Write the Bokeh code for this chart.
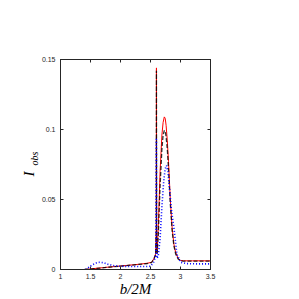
import numpy as np
from bokeh.plotting import figure
from bokeh.models import Range1d, LinearAxis, Title, FixedTicker
from bokeh.embed import file_html
from bokeh.resources import INLINE

# --- data ---
x_red = [1.40, 1.5, 1.7, 1.9, 2.1, 2.3, 2.45, 2.52, 2.56, 2.585, 2.597, 2.599, 2.602, 2.61, 2.63, 2.66, 2.69, 2.71, 2.73, 2.745, 2.76, 2.78, 2.80, 2.83, 2.86, 2.89, 2.92, 2.96, 3.0, 3.05, 3.2, 3.5]
y_red = [0.0, 0.0004, 0.0013, 0.0021, 0.0029, 0.0037, 0.0045, 0.0052, 0.008, 0.011, 0.03, 0.144, 0.02, 0.012, 0.03, 0.07, 0.096, 0.105, 0.109, 0.108, 0.103, 0.092, 0.077, 0.050, 0.030, 0.018, 0.012, 0.008, 0.0065, 0.0062, 0.0062, 0.0062]

x_blk = [1.40, 1.5, 1.7, 1.9, 2.1, 2.3, 2.45, 2.52, 2.56, 2.585, 2.597, 2.599, 2.602, 2.61, 2.63, 2.66, 2.69, 2.71, 2.73, 2.745, 2.76, 2.78, 2.80, 2.83, 2.86, 2.89, 2.92, 2.96, 3.0, 3.05, 3.2, 3.5]
y_blk = [0.0, 0.0003, 0.0012, 0.0020, 0.0028, 0.0036, 0.0043, 0.0050, 0.0078, 0.0105, 0.028, 0.142, 0.018, 0.011, 0.025, 0.060, 0.086, 0.096, 0.0993, 0.099, 0.095, 0.086, 0.072, 0.047, 0.028, 0.017, 0.011, 0.0075, 0.0062, 0.0060, 0.0060, 0.0060]

x_blu = [1.42, 1.5, 1.58, 1.65, 1.72, 1.8, 1.9, 2.0, 2.2, 2.4, 2.5, 2.55, 2.58, 2.592, 2.598, 2.601, 2.61, 2.63, 2.66, 2.69, 2.72, 2.745, 2.767, 2.79, 2.82, 2.85, 2.89, 2.94, 3.0, 3.1, 3.3, 3.5]
y_blu = [0.0, 0.0025, 0.0045, 0.0052, 0.0048, 0.0036, 0.0027, 0.0023, 0.0021, 0.0021, 0.0023, 0.005, 0.0088, 0.012, 0.094, 0.014, 0.008, 0.010, 0.022, 0.045, 0.063, 0.072, 0.0743, 0.070, 0.056, 0.042, 0.030, 0.011, 0.0052, 0.0042, 0.0040, 0.0040]

x_ticks = [1, 1.5, 2, 2.5, 3, 3.5]
y_ticks = [0, 0.05, 0.1, 0.15]
x_tick_labels = ["1", "1.5", "2", "2.5", "3", "3.5"]
y_tick_labels = ["0", "0.05", "0.1", "0.15"]

AX = "#262626"
TICK_FONT = "Liberation Sans"
SERIF = "Liberation Serif"

p = figure(width=299, height=299, output_backend="svg", toolbar_location=None,
           x_range=Range1d(1, 3.5), y_range=Range1d(0, 0.15),
           min_border_left=60, min_border_right=89, min_border_top=59, min_border_bottom=30)
p.background_fill_color = "white"
p.border_fill_color = "white"
p.outline_line_color = AX
p.outline_line_width = 1
p.grid.visible = False

def style(ax, labels=True):
    ax.axis_line_color = AX
    ax.major_tick_line_color = AX
    ax.major_tick_in = 3
    ax.major_tick_out = 0
    ax.minor_tick_line_color = None
    ax.major_label_text_font = TICK_FONT
    ax.major_label_text_font_size = "7px"
    ax.major_label_text_color = AX
    ax.major_label_standoff = 4
    if not labels:
        ax.major_label_text_alpha = 0
        ax.major_label_text_font_size = "1px"
        ax.major_label_standoff = 0

p.xaxis.ticker = FixedTicker(ticks=x_ticks)
p.yaxis.ticker = FixedTicker(ticks=y_ticks)
p.xaxis.major_label_overrides = dict(zip(x_ticks, x_tick_labels))
p.yaxis.major_label_overrides = dict(zip(y_ticks, y_tick_labels))
for ax in [p.xaxis[0], p.yaxis[0]]:
    style(ax)
p.yaxis.major_label_standoff = 5

p.xaxis.axis_label = "b/2M"
p.xaxis.axis_label_text_font = SERIF
p.xaxis.axis_label_text_font_style = "italic"
p.xaxis.axis_label_text_font_size = "15px"
p.xaxis.axis_label_text_color = "#000000"
p.xaxis.axis_label_standoff = -1

top = LinearAxis(ticker=FixedTicker(ticks=x_ticks))
right = LinearAxis(ticker=FixedTicker(ticks=y_ticks))
for ax in [top, right]:
    style(ax, labels=False)
p.add_layout(top, "above")
p.add_layout(right, "right")

p.line(x_red, y_red, line_color="#ff0000", line_width=1)
p.line(x_blk, y_blk, line_color="#000000", line_width=1.3, line_dash="4 2", line_alpha=0.8)
p.line(x_blu, y_blu, line_color="#0000ff", line_width=1.6, line_dash="1 2")

# y label: I with subscript obs (as two left titles)
t_obs = Title(text="obs", align="left", offset=104, standoff=-3, text_font=SERIF,
              text_font_style="italic", text_font_size="10px", text_color="#000000")
t_I = Title(text="I", align="left", offset=93, standoff=-17, text_font=SERIF,
            text_font_style="italic", text_font_size="15px", text_color="#000000")
p.add_layout(t_obs, "left")
p.add_layout(t_I, "left")

open("out.html", "w").write(file_html(p, INLINE))
